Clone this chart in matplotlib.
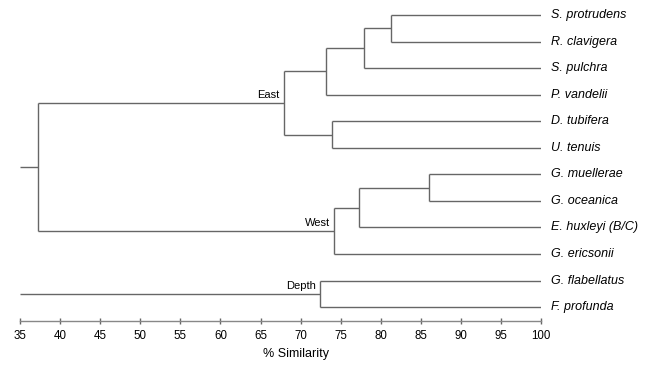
import matplotlib
matplotlib.use("Agg")
import matplotlib.pyplot as plt

# Leaves (top to bottom)
leaves = ["S. protrudens", "R. clavigera", "S. pulchra", "P. vandelii",
          "D. tubifera", "U. tenuis", "G. muellerae", "G. oceanica",
          "E. huxleyi (B/C)", "G. ericsonii", "G. flabellatus", "F. profunda"]

# Merges: (child_a, child_b, similarity); children are leaf indices or node names
merges = {
    "n1": (0, 1, 81.3),
    "n2": ("n1", 2, 77.9),
    "n3": ("n2", 3, 73.1),
    "n4": (4, 5, 73.9),
    "East": ("n3", "n4", 67.9),
    "n5": (6, 7, 86.0),
    "n6": ("n5", 8, 77.3),
    "West": ("n6", 9, 74.2),
    "root": ("East", "West", 37.3),
    "Depth": (10, 11, 72.4),
}
group_labels = ["East", "West", "Depth"]
x_ticks = [35, 40, 45, 50, 55, 60, 65, 70, 75, 80, 85, 90, 95, 100]
x_min, x_max = 35, 100

W, H = 649, 365
fig = plt.figure(figsize=(W / 100, H / 100), dpi=100)
ax = fig.add_axes([20 / W, 1 - 320.7 / H, (541.3 - 20) / W, 320.7 / H])

lc = "#666666"
lw = 1.0

pos = {}  # node -> (x, y)
for i in range(len(leaves)):
    pos[i] = (x_max, i)


def get(n):
    return pos[n]


for name, (a, b, s) in merges.items():
    xa, ya = get(a)
    xb, yb = get(b)
    ax.plot([xa, s], [ya, ya], color=lc, lw=lw, solid_capstyle="butt")
    ax.plot([xb, s], [yb, yb], color=lc, lw=lw, solid_capstyle="butt")
    ax.plot([s, s], [ya, yb], color=lc, lw=lw, solid_capstyle="butt")
    pos[name] = (s, (ya + yb) / 2)

# Root stubs to left edge
for n in ["root", "Depth"]:
    x, y = pos[n]
    ax.plot([x_min, x], [y, y], color=lc, lw=lw, solid_capstyle="butt")

for n in group_labels:
    x, y = pos[n]
    ax.annotate(n, (x, y), xytext=(-3, 2), textcoords="offset points",
                ha="right", va="bottom", fontsize=8, family="Liberation Sans")

for i, lab in enumerate(leaves):
    ax.annotate(lab, (x_max, i), xytext=(7, 0), textcoords="offset points",
                ha="left", va="center", fontsize=9, style="italic",
                family="Liberation Sans", annotation_clip=False)

ax.set_xlim(x_min, x_max)
ax.set_ylim(11.51, -0.565)
for s in ["top", "right", "left"]:
    ax.spines[s].set_visible(False)
ax.spines["bottom"].set_color("#888888")
ax.spines["bottom"].set_linewidth(1.0)
ax.set_yticks([])
ax.set_xticks(x_ticks)
ax.tick_params(axis="x", direction="inout", length=5, width=1, color="#666666",
               labelsize=8.3, pad=4.5)
for t in ax.get_xticklabels():
    t.set_family("Liberation Sans")
ax.patch.set_visible(False)

fig.text(296 / W, 1 - 354 / H, "% Similarity", ha="center", va="center",
         fontsize=9, family="Liberation Sans")

fig.savefig("out.png", dpi=100)
